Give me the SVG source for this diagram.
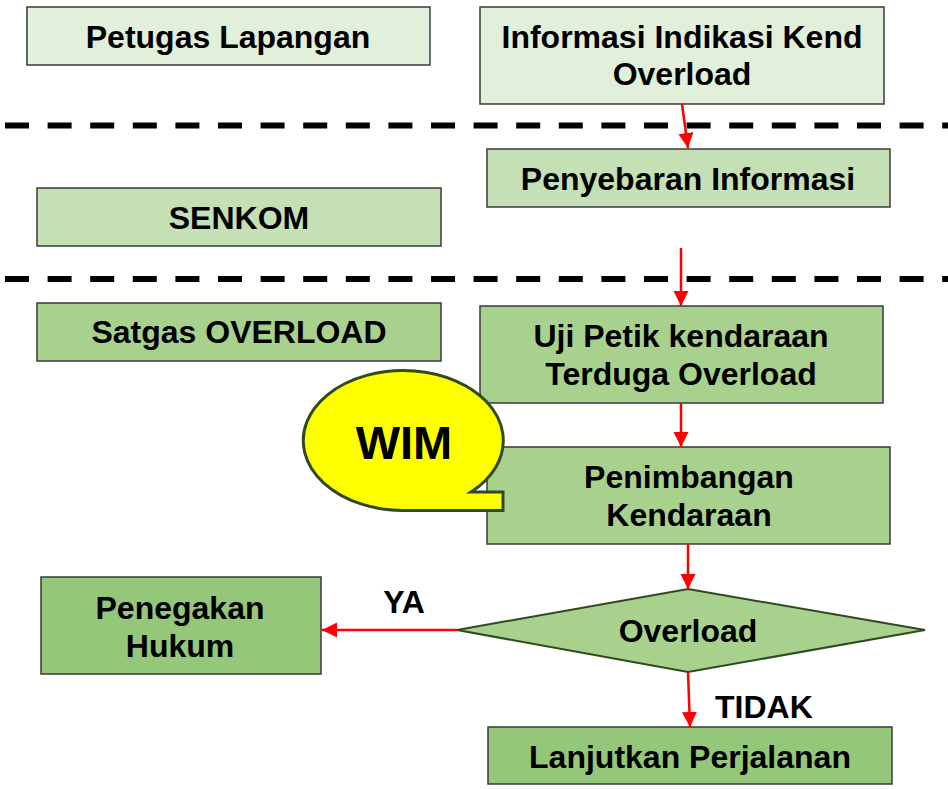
<svg xmlns="http://www.w3.org/2000/svg" width="948" height="789" viewBox="0 0 948 789">
<style>
  .box{stroke:#3a3a3a;stroke-width:1.5}
  .l1{fill:#E2EFDA}
  .l2{fill:#C5E0B4}
  .l3{fill:#A9D18E}
  .l4{fill:#95C77A}
  .t{font-family:"Liberation Sans",Arial,sans-serif;font-weight:bold;font-size:32px;fill:#000;text-anchor:middle}
  .dash{stroke:#000;stroke-width:6;stroke-dasharray:24 18.6;fill:none}
  .con{stroke:#FF0000;stroke-width:2.5;fill:none;marker-end:url(#arr)}
</style>
<defs>
  <marker id="arr" markerUnits="userSpaceOnUse" markerWidth="16" markerHeight="16" refX="15" refY="7.5" orient="auto">
    <path d="M0,0 L15,7.5 L0,15 Z" fill="#FF0000"/>
  </marker>
</defs>
<rect width="948" height="789" fill="#FFFFFF"/>

<g id="separators">
  <line class="dash" x1="5" y1="125.5" x2="948" y2="125.5"/>
  <line class="dash" x1="5" y1="279" x2="948" y2="279"/>
</g>

<g id="petugas">
  <rect class="box l1" x="27" y="7" width="403" height="58"/>
  <text class="t" x="228" y="48">Petugas Lapangan</text>
</g>
<g id="senkom">
  <rect class="box l2" x="37" y="188" width="404" height="58"/>
  <text class="t" x="239" y="229">SENKOM</text>
</g>
<g id="satgas">
  <rect class="box l3" x="37" y="303" width="404" height="58"/>
  <text class="t" x="239" y="343">Satgas OVERLOAD</text>
</g>

<g id="informasi">
  <rect class="box l1" x="480" y="7" width="404" height="97"/>
  <text class="t" x="682" y="48">Informasi Indikasi Kend</text>
  <text class="t" x="682" y="85">Overload</text>
</g>
<g id="penyebaran">
  <rect class="box l2" x="487" y="149" width="403" height="58"/>
  <text class="t" x="688" y="190">Penyebaran Informasi</text>
</g>
<g id="ujipetik">
  <rect class="box l3" x="480" y="306" width="403" height="97"/>
  <text class="t" x="681" y="347">Uji Petik kendaraan</text>
  <text class="t" x="681" y="385">Terduga Overload</text>
</g>
<g id="penimbangan">
  <rect class="box l3" x="487" y="447" width="403" height="97"/>
  <text class="t" x="689" y="488">Penimbangan</text>
  <text class="t" x="689" y="526">Kendaraan</text>
</g>
<g id="wim">
  <path d="M471,492 A100,70 0 1 0 404,510.5 L503,510.5 L503,492 Z" fill="#FFFF00" stroke="#2E4A1E" stroke-width="3" stroke-linejoin="miter"/>
  <text x="404" y="459" font-family="'Liberation Sans',Arial,sans-serif" font-weight="bold" font-size="47" text-anchor="middle" fill="#000">WIM</text>
</g>
<g id="overload">
  <polygon points="688,589 925,630 688,672 457,630" fill="#A9D18E" stroke="#2E4A1E" stroke-width="2"/>
  <text class="t" x="688" y="642">Overload</text>
</g>
<g id="penegakan">
  <rect class="box l4" x="41" y="577" width="280" height="97"/>
  <text class="t" x="180" y="619">Penegakan</text>
  <text class="t" x="180" y="657">Hukum</text>
</g>
<g id="lanjutkan">
  <rect class="box l4" x="488" y="727" width="404" height="57"/>
  <text class="t" x="690" y="768">Lanjutkan Perjalanan</text>
</g>

<g id="connectors">
  <line class="con" x1="682" y1="104" x2="688" y2="148"/>
  <line class="con" x1="681" y1="248" x2="681" y2="306"/>
  <line class="con" x1="681" y1="403" x2="681" y2="447"/>
  <line class="con" x1="688" y1="544" x2="688" y2="589"/>
  <line class="con" x1="457" y1="630" x2="322" y2="630"/>
  <line class="con" x1="688" y1="672" x2="690" y2="727"/>
  <text class="t" x="404" y="613">YA</text>
  <text class="t" x="715" y="718" style="text-anchor:start">TIDAK</text>
</g>
</svg>
